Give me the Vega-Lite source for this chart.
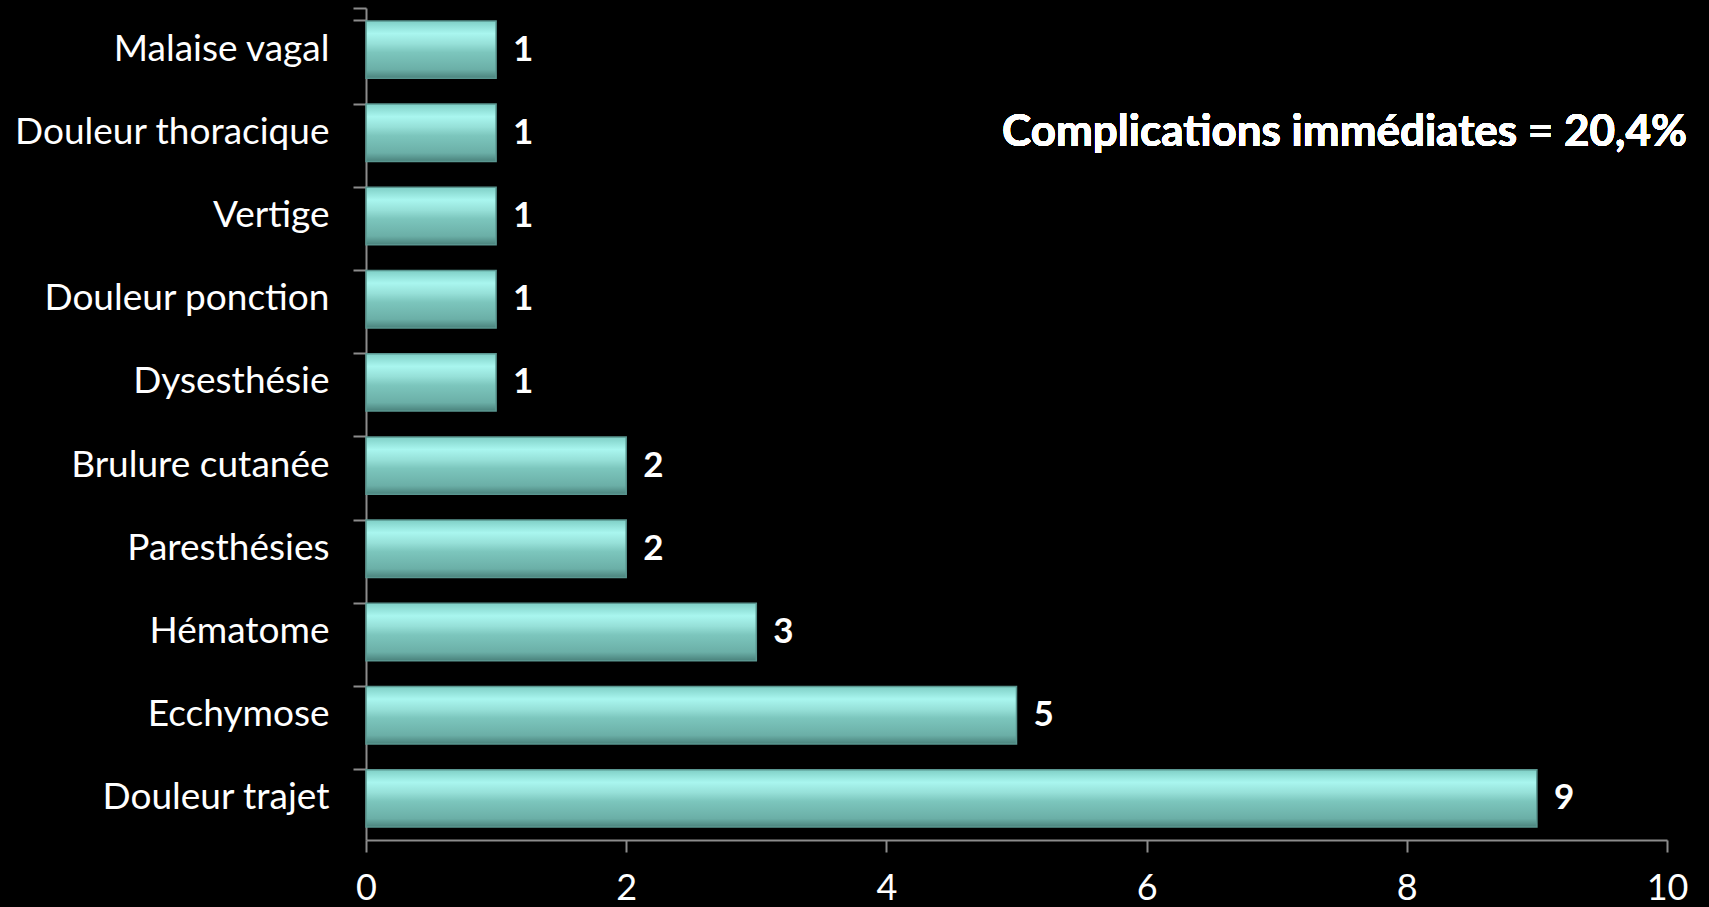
{
  "$schema": "https://vega.github.io/schema/vega-lite/v6.json",
  "width": 1301,
  "height": 832,
  "autosize": {"type": "none"},
  "padding": {"left": 366, "top": 8, "right": 42, "bottom": 67},
  "background": "#000000",
  "config": {"view": {"stroke": null}, "axis": {"grid": false}},
  "data": {
    "values": [
      {"complication": "Malaise vagal", "n": 1},
      {"complication": "Douleur thoracique", "n": 1},
      {"complication": "Vertige", "n": 1},
      {"complication": "Douleur ponction", "n": 1},
      {"complication": "Dysesthésie", "n": 1},
      {"complication": "Brulure cutanée", "n": 2},
      {"complication": "Paresthésies", "n": 2},
      {"complication": "Hématome", "n": 3},
      {"complication": "Ecchymose", "n": 5},
      {"complication": "Douleur trajet", "n": 9}
    ]
  },
  "encoding": {
    "y": {
      "field": "complication",
      "type": "nominal",
      "title": null,
      "scale": {
        "domain": ["Malaise vagal", "Douleur thoracique", "Vertige", "Douleur ponction", "Dysesthésie", "Brulure cutanée", "Paresthésies", "Hématome", "Ecchymose", "Douleur trajet"],
        "paddingInner": 0.31,
        "paddingOuter": 0.155
      },
      "axis": {
        "bandPosition": 0,
        "tickExtra": true,
        "domainColor": "#8c8c8c",
        "domainWidth": 2,
        "tickColor": "#8c8c8c",
        "tickWidth": 2,
        "tickSize": 13,
        "labelPadding": 24,
        "labelLimit": 0,
        "labelColor": "#ffffff",
        "labelFont": "Lato",
        "labelFontSize": 37,
        "labelFontWeight": "normal"
      }
    },
    "x": {
      "field": "n",
      "type": "quantitative",
      "title": null,
      "scale": {"domain": [0, 10], "nice": false},
      "axis": {
        "values": [0, 2, 4, 6, 8, 10],
        "domainColor": "#8c8c8c",
        "domainWidth": 2,
        "tickColor": "#8c8c8c",
        "tickWidth": 2,
        "tickSize": 12,
        "labelPadding": 19,
        "labelColor": "#ffffff",
        "labelFont": "Lato",
        "labelFontSize": 36,
        "labelFlush": false
      }
    }
  },
  "layer": [
    {
      "mark": {
        "type": "bar",
        "color": {
          "gradient": "linear",
          "x1": 0, "y1": 0, "x2": 0, "y2": 1,
          "stops": [
            {"offset": 0, "color": "#7fcfc6"},
            {"offset": 0.22, "color": "#a9f6ef"},
            {"offset": 0.4, "color": "#96e0d8"},
            {"offset": 0.55, "color": "#7cc6bd"},
            {"offset": 0.85, "color": "#6bafa7"},
            {"offset": 1, "color": "#4a827c"}
          ]
        },
        "stroke": "#5a9690",
        "strokeWidth": 1.5
      }
    },
    {
      "mark": {
        "type": "text",
        "align": "left",
        "baseline": "middle",
        "dx": 17,
        "font": "Lato",
        "fontSize": 35,
        "fontWeight": "bold",
        "color": "#ffffff"
      },
      "encoding": {"text": {"field": "n", "type": "quantitative"}}
    },
    {
      "mark": {
        "type": "text",
        "text": "Complications immédiates = 20,4%",
        "align": "right",
        "baseline": "middle",
        "dx": 20,
        "font": "Lato",
        "fontSize": 44,
        "fontWeight": "bold",
        "color": "#ffffff"
      },
      "encoding": {
        "x": {"datum": 10},
        "y": {"datum": "Douleur thoracique"},
        "text": null
      }
    }
  ]
}
